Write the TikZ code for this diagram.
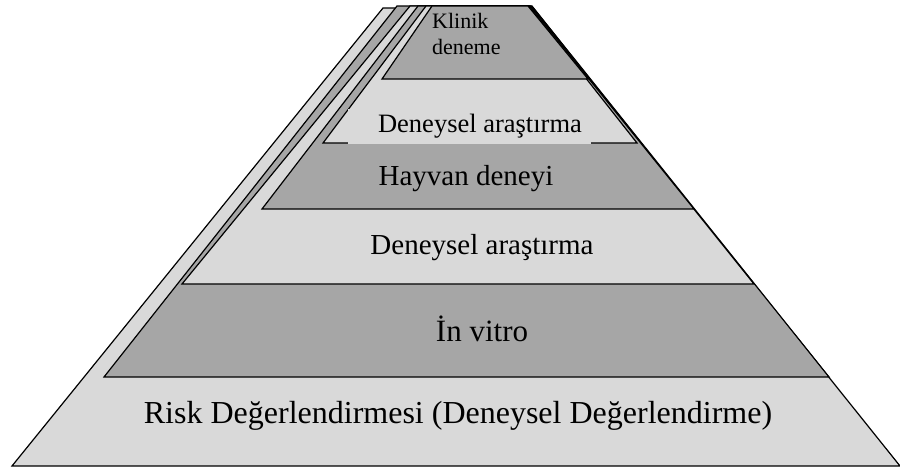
\documentclass[tikz,border=0pt]{standalone}
\usepackage{fontspec}
\setmainfont{Liberation Serif}
\definecolor{lightlayer}{HTML}{D9D9D9}
\definecolor{darklayer}{HTML}{A6A6A6}
\tikzset{
  layerline/.style={draw=black, line width=1.2pt, line join=miter},
  lightband/.style={layerline, fill=lightlayer},
  darkband/.style={layerline, fill=darklayer},
  lbl/.style={anchor=base, inner sep=0pt, text=black},
}
\begin{document}
\begin{tikzpicture}[x=1pt,y=-1pt]
\useasboundingbox (0,0) rectangle (900,471);
% layers, back to front
\path[lightband] (12,466) -- (900,466) -- (533,8) -- (383,8) -- cycle;
\path[darkband]  (104,377) -- (829,377) -- (532,6) -- (397,6) -- cycle;
\path[lightband] (182,284) -- (754,284) -- (531,6) -- (410,6) -- cycle;
\path[darkband]  (262,209) -- (694,209) -- (530,6) -- (418,6) -- cycle;
\path[lightband] (323,143) -- (637,143) -- (529,6) -- (426,6) -- cycle;
\path[darkband]  (382,79) -- (588,79) -- (528,6) -- (432,6) -- cycle;
% text box of the small label, covering the lines behind it
\fill[lightlayer] (348,109) rectangle (591,143.8);
% labels
\node[lbl, font=\fontsize{32}{38}\selectfont] (risk) at (458,423) {Risk Değerlendirmesi (Deneysel Değerlendirme)};
\node[lbl, font=\fontsize{31}{36}\selectfont] (invitro) at (482,341) {İn vitro};
\node[lbl, font=\fontsize{29}{34}\selectfont] (deney1) at (482,254) {Deneysel araştırma};
\node[lbl, font=\fontsize{29}{34}\selectfont] (hayvan) at (466,185) {Hayvan deneyi};
\node[lbl, font=\fontsize{26.5}{31}\selectfont] (deney2) at (480,132) {Deneysel araştırma};
\node[lbl, font=\fontsize{22}{26}\selectfont, anchor=base west] (klinik1) at (432,28) {Klinik};
\node[lbl, font=\fontsize{22}{26}\selectfont, anchor=base west] (klinik2) at (432,54) {deneme};
\end{tikzpicture}
\end{document}
